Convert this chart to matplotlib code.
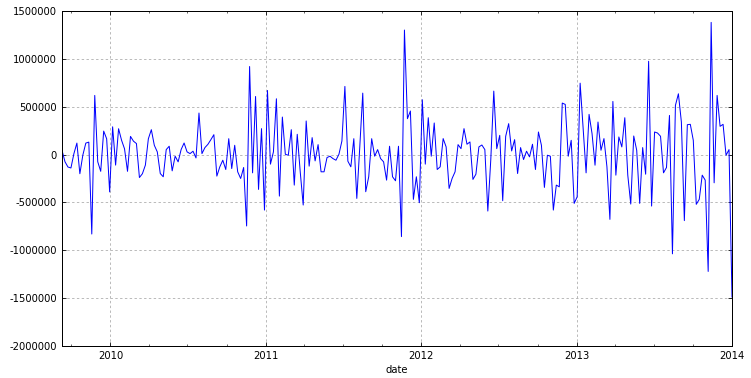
import matplotlib
matplotlib.use("Agg")
import matplotlib.pyplot as plt
import matplotlib.dates as mdates
from matplotlib.ticker import FuncFormatter, MultipleLocator
import pandas as pd

# weekly values, thousands
VALUES_K = [
    45, -75, -130, -140, 10, 120, -200, -5, 120, 130,
    -830, 618, -75, -175, 245, 165, -390, 290, -110, 270,
    150, 60, -175, 190, 140, 115, -240, -200, -110, 165,
    260, 97, 28, -198, -232, 52, 87, -170, -17, -76,
    52, 121, 28, 10, 35, -35, 434, 10, 73, 107,
    156, 208, -225, -128, -59, -156, 166, -146, 97, -180,
    -250, -135, -746, 920, -191, 607, -364, 271, -580, 670,
    -100, 28, 583, -434, 392, 3, -7, 260, -319, 212,
    -180, -527, 351, -121, 177, -66, 104, -180, -180, -31,
    -17, -42, -59, 3, 142, 712, -69, -128, 166, -458,
    80, 642, -388, -232, 166, -17, 52, -42, -76, -267,
    87, -232, -274, 87, -857, 1301, 375, 455, -468, -232,
    -503, 573, -100, 385, -17, 330, -156, -128, 167, 80,
    -354, -250, -180, 104, 62, 271, 108, 132, -260, -205,
    80, 100, 52, -590, -50, 663, 62, 201, -482, 191,
    323, 38, 156, -198, 73, -52, 35, -24, 108, -156,
    236, 97, -343, -7, -17, -580, -319, -337, 538, 524,
    -17, 149, -510, -441, 746, 271, -191, 420, 219, -111,
    340, 45, 167, -128, -677, 555, -215, 184, 80, 385,
    -215, -517, 194, 45, -510, 73, -205, 975, -538, 236,
    225, 191, -191, -135, 409, -1037, 514, 635, 340, -690,
    312, 316, 149, -520, -468, -215, -267, -1221, 1381, -295,
    618, 295, 316, -7, 52, -1489,
]
END_DATE = "2014-01-01"
Y_TICKS = list(range(-2000000, 1500001, 500000))

plt.rcParams["axes.unicode_minus"] = False
plt.rcParams["font.size"] = 10

dates = pd.date_range(end=END_DATE, periods=len(VALUES_K), freq="7D")
series = pd.Series([v * 1000 for v in VALUES_K], index=dates)

fig = plt.figure(figsize=(751 / 72, 378 / 72), dpi=72)
ax = fig.add_axes([62 / 751, 1 - 346 / 378, 670 / 751, 335 / 378])
ax.plot(series.index, series.values, color="#0000ff", linewidth=1)

ax.set_xlim(series.index[0], series.index[-1])
ax.set_ylim(-2000000, 1500000)
ax.set_yticks(Y_TICKS)
ax.yaxis.set_major_formatter(FuncFormatter(lambda v, p: "%d" % v))
ax.xaxis.set_major_locator(mdates.YearLocator())
ax.xaxis.set_major_formatter(mdates.DateFormatter("%Y"))
ax.xaxis.set_minor_locator(mdates.MonthLocator(bymonth=[1, 4, 7, 10]))
ax.tick_params(which="both", direction="in", top=True, right=True)
ax.tick_params(which="major", length=4, pad=5)
ax.tick_params(which="minor", length=2)
ax.grid(True, which="major", color="#aaaaaa", linestyle=(0, (3, 3)), linewidth=0.8)
for s in ax.spines.values():
    s.set_linewidth(1)
ax.set_xlabel("date")

fig.savefig("out.png", dpi=72)
